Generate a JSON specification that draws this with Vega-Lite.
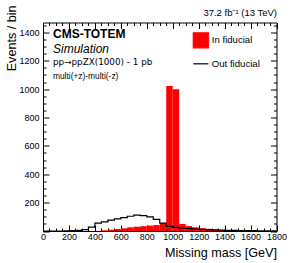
{
  "$schema": "https://vega.github.io/schema/vega-lite/v6.json",
  "autosize": "none",
  "padding": {"left": 43, "top": 22.5, "right": 14.5, "bottom": 32},
  "width": 233.5,
  "height": 208.5,
  "background": "white",
  "config": {
    "font": "Liberation Sans",
    "view": {"stroke": "black", "strokeWidth": 1},
    "axis": {"grid": false, "domain": false, "labelFont": "Liberation Sans", "labelFontSize": 9, "labelColor": "black", "tickColor": "black", "tickWidth": 1, "titleFont": "Liberation Sans", "titleFontSize": 12.6, "titleFontWeight": "normal", "titleColor": "black", "labelOverlap": false, "labelFlush": false}
  },
  "datasets": {
    "infid": [
      {"lo": 0, "hi": 50, "n": 0}, {"lo": 50, "hi": 100, "n": 0}, {"lo": 100, "hi": 150, "n": 0}, {"lo": 150, "hi": 200, "n": 0},
      {"lo": 200, "hi": 250, "n": 0}, {"lo": 250, "hi": 300, "n": 0}, {"lo": 300, "hi": 350, "n": 0}, {"lo": 350, "hi": 400, "n": 0},
      {"lo": 400, "hi": 450, "n": 1}, {"lo": 450, "hi": 500, "n": 5}, {"lo": 500, "hi": 550, "n": 9}, {"lo": 550, "hi": 600, "n": 14},
      {"lo": 600, "hi": 650, "n": 19}, {"lo": 650, "hi": 700, "n": 26}, {"lo": 700, "hi": 750, "n": 30}, {"lo": 750, "hi": 800, "n": 34},
      {"lo": 800, "hi": 850, "n": 38}, {"lo": 850, "hi": 900, "n": 42}, {"lo": 900, "hi": 950, "n": 55}, {"lo": 950, "hi": 1000, "n": 1023},
      {"lo": 1000, "hi": 1050, "n": 1000}, {"lo": 1050, "hi": 1100, "n": 50}, {"lo": 1100, "hi": 1150, "n": 35}, {"lo": 1150, "hi": 1200, "n": 26},
      {"lo": 1200, "hi": 1250, "n": 19}, {"lo": 1250, "hi": 1300, "n": 15}, {"lo": 1300, "hi": 1350, "n": 11}, {"lo": 1350, "hi": 1400, "n": 8},
      {"lo": 1400, "hi": 1450, "n": 6}, {"lo": 1450, "hi": 1500, "n": 4}, {"lo": 1500, "hi": 1550, "n": 3}, {"lo": 1550, "hi": 1600, "n": 2},
      {"lo": 1600, "hi": 1650, "n": 1}, {"lo": 1650, "hi": 1700, "n": 1}, {"lo": 1700, "hi": 1750, "n": 0}, {"lo": 1750, "hi": 1800, "n": 0}
    ],
    "outfid": [
      {"edge": 0, "n": 0}, {"edge": 50, "n": 0}, {"edge": 100, "n": 0}, {"edge": 150, "n": 1},
      {"edge": 200, "n": 2}, {"edge": 250, "n": 4}, {"edge": 300, "n": 10}, {"edge": 350, "n": 27},
      {"edge": 400, "n": 55}, {"edge": 450, "n": 65}, {"edge": 500, "n": 76}, {"edge": 550, "n": 85},
      {"edge": 600, "n": 95}, {"edge": 650, "n": 104}, {"edge": 700, "n": 112}, {"edge": 750, "n": 108},
      {"edge": 800, "n": 99}, {"edge": 850, "n": 82}, {"edge": 900, "n": 55}, {"edge": 950, "n": 33},
      {"edge": 1000, "n": 25}, {"edge": 1050, "n": 20}, {"edge": 1100, "n": 17}, {"edge": 1150, "n": 14},
      {"edge": 1200, "n": 12}, {"edge": 1250, "n": 10}, {"edge": 1300, "n": 8}, {"edge": 1350, "n": 6},
      {"edge": 1400, "n": 5}, {"edge": 1450, "n": 4}, {"edge": 1500, "n": 3}, {"edge": 1550, "n": 2},
      {"edge": 1600, "n": 2}, {"edge": 1650, "n": 1}, {"edge": 1700, "n": 1}, {"edge": 1750, "n": 1},
      {"edge": 1800, "n": 1}
    ]
  },
  "layer": [
    {
      "data": {"name": "infid"},
      "mark": {"type": "rect", "strokeWidth": 0, "opacity": 1},
      "encoding": {
        "x": {"field": "lo", "type": "quantitative", "scale": {"domain": [0, 1800], "nice": false, "zero": false},
          "axis": {"orient": "bottom", "values": [0,50,100,150,200,250,300,350,400,450,500,550,600,650,700,750,800,850,900,950,1000,1050,1100,1150,1200,1250,1300,1350,1400,1450,1500,1550,1600,1650,1700,1750,1800],
            "format": "d", "labelExpr": "datum.value % 200 === 0 ? datum.label : ''",
            "tickSize": {"condition": {"test": "datum.value % 200 === 0", "value": -6}, "value": -3},
            "labelPadding": 7.5, "title": "Missing mass [GeV]", "titleX": 233.5, "titleY": 21.5, "titleAlign": "right", "titleBaseline": "middle", "titleAnchor": "end"}},
        "x2": {"field": "hi"},
        "y": {"field": "n", "type": "quantitative", "scale": {"domain": [0, 1470], "nice": false, "zero": true},
          "axis": {"orient": "left", "values": [0,50,100,150,200,250,300,350,400,450,500,550,600,650,700,750,800,850,900,950,1000,1050,1100,1150,1200,1250,1300,1350,1400,1450],
            "format": "d", "labelExpr": "datum.value % 200 === 0 && datum.value > 0 ? datum.label : ''",
            "tickSize": {"condition": {"test": "datum.value % 200 === 0", "value": -6}, "value": -3},
            "labelPadding": 10, "title": "Events / bin", "titleX": -32, "titleY": -17.5, "titleAngle": -90, "titleAlign": "right", "titleBaseline": "middle"}},
        "y2": {"datum": 0},
        "color": {"datum": "In fiducial", "type": "nominal",
          "scale": {"domain": ["In fiducial", "Out fiducial"], "range": ["#ff0000", "#000000"]},
          "legend": {"title": null, "orient": "none", "legendX": 149.3, "legendY": 9.3, "padding": 0,
            "symbolSize": 225, "rowPadding": 4.5, "labelFontSize": 9.6, "labelFont": "Liberation Sans", "labelColor": "black", "labelOffset": 2.5,
            "symbolType": "square",
            "encode": {"symbols": {"update": {
              "shape": [{"test": "datum.value === 'Out fiducial'", "value": "stroke"}, {"value": "square"}],
              "fill": [{"test": "datum.value === 'Out fiducial'", "value": "transparent"}, {"value": "#ff0000"}],
              "stroke": [{"test": "datum.value === 'Out fiducial'", "value": "#000000"}, {"value": "transparent"}],
              "strokeWidth": {"value": 1.2},
              "opacity": {"value": 1},
              "size": {"value": 225}
            }}}}}
      }
    },
    {
      "data": {"name": "outfid"},
      "mark": {"type": "line", "interpolate": "step-after", "strokeWidth": 1.2, "clip": true},
      "encoding": {
        "x": {"field": "edge", "type": "quantitative", "scale": {"domain": [0, 1800], "nice": false, "zero": false},
          "axis": {"orient": "top", "values": [0,50,100,150,200,250,300,350,400,450,500,550,600,650,700,750,800,850,900,950,1000,1050,1100,1150,1200,1250,1300,1350,1400,1450,1500,1550,1600,1650,1700,1750,1800],
            "labels": false, "title": "37.2 fb⁻¹ (13 TeV)", "titleX": 233.5, "titleY": -7.5, "titleAlign": "right", "titleBaseline": "alphabetic", "titleFontSize": 9.5,
            "tickSize": {"condition": {"test": "datum.value % 200 === 0", "value": -6}, "value": -3}}},
        "y": {"field": "n", "type": "quantitative", "scale": {"domain": [0, 1470], "nice": false, "zero": true},
          "axis": {"orient": "right", "values": [0,50,100,150,200,250,300,350,400,450,500,550,600,650,700,750,800,850,900,950,1000,1050,1100,1150,1200,1250,1300,1350,1400,1450],
            "labels": false, "title": null,
            "tickSize": {"condition": {"test": "datum.value % 200 === 0", "value": -6}, "value": -3}}},
        "color": {"datum": "Out fiducial", "type": "nominal",
          "legend": {"title": null, "orient": "none", "legendX": 149.3, "legendY": 9.3, "padding": 0,
            "symbolSize": 225, "rowPadding": 4.5, "labelFontSize": 9.6, "labelFont": "Liberation Sans", "labelColor": "black", "labelOffset": 2.5,
            "symbolType": "square",
            "encode": {"symbols": {"update": {
              "shape": [{"test": "datum.value === 'Out fiducial'", "value": "stroke"}, {"value": "square"}],
              "fill": [{"test": "datum.value === 'Out fiducial'", "value": "transparent"}, {"value": "#ff0000"}],
              "stroke": [{"test": "datum.value === 'Out fiducial'", "value": "#000000"}, {"value": "transparent"}],
              "strokeWidth": {"value": 1.2},
              "opacity": {"value": 1},
              "size": {"value": 225}
            }}}}}
      }
    },
    {
      "data": {"values": [{"t": "CMS-TOTEM"}]},
      "mark": {"type": "text", "align": "left", "baseline": "middle", "fontSize": 12, "fontWeight": "bold", "font": "Liberation Sans", "color": "black"},
      "encoding": {"x": {"datum": 77, "type": "quantitative", "axis": null}, "y": {"datum": 1390, "type": "quantitative", "axis": null}, "text": {"field": "t"}}
    },
    {
      "data": {"values": [{"t": "Simulation"}]},
      "mark": {"type": "text", "align": "left", "baseline": "middle", "fontSize": 12, "fontStyle": "italic", "font": "Liberation Sans", "color": "black"},
      "encoding": {"x": {"datum": 77, "type": "quantitative", "axis": null}, "y": {"datum": 1280, "type": "quantitative", "axis": null}, "text": {"field": "t"}}
    },
    {
      "data": {"values": [{"t": "pp→ppZX(1000) - 1 pb"}]},
      "mark": {"type": "text", "align": "left", "baseline": "middle", "fontSize": 8.8, "font": "DejaVu Sans", "color": "black"},
      "encoding": {"x": {"datum": 77, "type": "quantitative", "axis": null}, "y": {"datum": 1188, "type": "quantitative", "axis": null}, "text": {"field": "t"}}
    },
    {
      "data": {"values": [{"t": "multi(+z)-multi(-z)"}]},
      "mark": {"type": "text", "align": "left", "baseline": "middle", "fontSize": 8.4, "font": "Liberation Sans", "color": "black"},
      "encoding": {"x": {"datum": 77, "type": "quantitative", "axis": null}, "y": {"datum": 1090, "type": "quantitative", "axis": null}, "text": {"field": "t"}}
    }
  ],
  "resolve": {"axis": {"x": "independent", "y": "independent"}}
}
